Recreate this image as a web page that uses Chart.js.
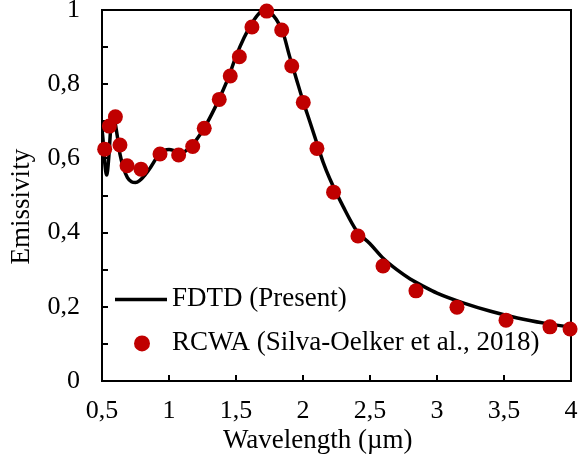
<!DOCTYPE html>
<html>
<head>
<meta charset="utf-8">
<script src="https://cdn.jsdelivr.net/npm/chart.js@4.4.1/dist/chart.umd.min.js"></script>
<style>
  html, body { margin: 0; padding: 0; background: #fff; }
  #emisChart { display: block; }
</style>
</head>
<body>
<canvas id="emisChart" width="578" height="463"></canvas>
<script>
// FDTD (Present) - solid curve
const fdtdWavelength = [0.50, 0.51, 0.52, 0.535, 0.55, 0.565, 0.58, 0.595, 0.61, 0.635, 0.66, 0.69, 0.72, 0.75, 0.78, 0.82, 0.87, 0.93, 1.00, 1.05, 1.10, 1.15, 1.20, 1.26, 1.32, 1.38, 1.44, 1.50, 1.56, 1.62, 1.67, 1.71, 1.75, 1.80, 1.85, 1.90, 1.95, 2.00, 2.05, 2.10, 2.15, 2.20, 2.30, 2.40, 2.50, 2.60, 2.70, 2.80, 2.90, 3.00, 3.20, 3.40, 3.60, 3.80, 4.00]
const fdtdEmissivity = [0.68, 0.64, 0.59, 0.555, 0.60, 0.68, 0.71, 0.70, 0.67, 0.61, 0.575, 0.548, 0.537, 0.535, 0.54, 0.555, 0.58, 0.613, 0.624, 0.62, 0.616, 0.628, 0.648, 0.68, 0.72, 0.765, 0.815, 0.875, 0.925, 0.965, 0.99, 1.0, 0.995, 0.975, 0.94, 0.875, 0.815, 0.755, 0.70, 0.645, 0.59, 0.545, 0.47, 0.405, 0.37, 0.33, 0.30, 0.275, 0.255, 0.237, 0.21, 0.188, 0.17, 0.156, 0.145]

// RCWA (Silva-Oelker et al., 2018) - red dots
const rcwaWavelength = [0.52, 0.555, 0.60, 0.634, 0.687, 0.791, 0.933, 1.072, 1.177, 1.263, 1.375, 1.457, 1.525, 1.619, 1.729, 1.841, 1.916, 2.002, 2.104, 2.228, 2.41, 2.597, 2.843, 3.149, 3.515, 3.843, 3.993]
const rcwaEmissivity = [0.625, 0.687, 0.712, 0.636, 0.580, 0.571, 0.612, 0.609, 0.632, 0.681, 0.759, 0.822, 0.874, 0.954, 0.997, 0.946, 0.849, 0.751, 0.627, 0.509, 0.391, 0.31, 0.243, 0.199, 0.164, 0.146, 0.140]

const xTicks = [0.5, 1, 1.5, 2, 2.5, 3, 3.5, 4]
const yTicks = [0, 0.2, 0.4, 0.6, 0.8, 1]

const seriesNames = ["FDTD (Present)", "RCWA (Silva-Oelker et al., 2018)"]
const xTitle = "Wavelength (µm)"
const yTitle = "Emissivity"

const serif = "'Liberation Serif', 'Times New Roman', serif"
const red = "#C00000"

function toPoints(xs, ys) {
    return xs.map(function(x, i) { return { x: x, y: ys[i] } })
}

function commaLabel(v) {
    return String(Math.round(v * 10) / 10).replace(".", ",")
}

// keep the plot box where the reference has it
function noScalePadding(scale) {
    scale.paddingTop = 0
    scale.paddingBottom = 0
    scale.paddingLeft = 0
    scale.paddingRight = 0
}

// frame and inner tick marks go under the data, titles and legend on top
const framePlugin = {
    id: "frame",
    beforeDatasetsDraw(chart) {
        const ctx = chart.ctx
        const area = chart.chartArea
        const xs = chart.scales.x
        const ys = chart.scales.y
        ctx.save()
        ctx.strokeStyle = "#000"
        ctx.lineWidth = 2
        ctx.strokeRect(area.left, area.top, area.right - area.left, area.bottom - area.top)

        ctx.beginPath()
        xs.ticks.forEach(function(t) {
            const px = Math.round(xs.getPixelForValue(t.value))
            ctx.moveTo(px, area.bottom)
            ctx.lineTo(px, area.bottom - 6)
        })
        ys.ticks.forEach(function(t) {
            const py = Math.round(ys.getPixelForValue(t.value))
            ctx.moveTo(area.left, py)
            ctx.lineTo(area.left + 6, py)
        })
        ctx.stroke()
        ctx.restore()
    },
    afterDraw(chart) {
        const ctx = chart.ctx
        const area = chart.chartArea
        const ys = chart.scales.y
        ctx.save()

        // axis titles
        ctx.fillStyle = "#000"
        ctx.font = "27px " + serif
        ctx.textAlign = "center"
        ctx.textBaseline = "middle"
        ctx.fillText(xTitle, area.left + (area.right - area.left) * 0.46, area.bottom + 60)
        ctx.save()
        ctx.translate(22, area.top + (area.bottom - area.top) * 0.53)
        ctx.rotate(-Math.PI / 2)
        ctx.fillText(yTitle, 0, 0)
        ctx.restore()

        // legend inside the plot
        ctx.textAlign = "left"
        const lx = area.left + 13
        const ly = ys.getPixelForValue(0.22)
        ctx.lineWidth = 3.5
        ctx.beginPath()
        ctx.moveTo(lx, ly)
        ctx.lineTo(lx + 52, ly)
        ctx.stroke()
        ctx.fillText(seriesNames[0], lx + 57, ly)

        const ly2 = ly + 44
        ctx.fillStyle = red
        ctx.beginPath()
        ctx.arc(lx + 27, ly2, 8, 0, Math.PI * 2)
        ctx.fill()
        ctx.fillStyle = "#000"
        ctx.fillText(seriesNames[1], lx + 57, ly2)
        ctx.restore()
    }
}

const data = {
    datasets: [
        {
            type: "line",
            label: seriesNames[0],
            data: toPoints(fdtdWavelength, fdtdEmissivity),
            borderColor: "#000",
            borderWidth: 3.5,
            pointRadius: 0,
            cubicInterpolationMode: "monotone",
            fill: false,
            order: 2
        },
        {
            type: "scatter",
            label: seriesNames[1],
            data: toPoints(rcwaWavelength, rcwaEmissivity),
            backgroundColor: red,
            borderWidth: 0,
            pointRadius: 7.5,
            clip: 10,
            order: 1
        }
    ]
}

const config = {
    type: "scatter",
    data,
    options: {
        responsive: false,
        animation: false,
        devicePixelRatio: 1,
        layout: {
            autoPadding: false,
            padding: { left: 0, right: 7, top: 10, bottom: 0 }
        },
        plugins: {
            legend: { display: false },
            tooltip: { enabled: false }
        },
        scales: {
            x: {
                type: "linear",
                min: 0.5,
                max: 4,
                afterFit: function(scale) {
                    scale.height = 82
                    noScalePadding(scale)
                },
                afterBuildTicks: function(scale) {
                    scale.ticks = xTicks.map(function(v) { return { value: v } })
                },
                grid: { display: false, drawTicks: false },
                border: { display: false },
                ticks: {
                    color: "#000",
                    font: { family: serif, size: 26 },
                    padding: 15,
                    maxRotation: 0,
                    callback: commaLabel
                }
            },
            y: {
                min: 0,
                max: 1,
                afterFit: function(scale) {
                    scale.width = 102
                    noScalePadding(scale)
                },
                afterBuildTicks: function(scale) {
                    const t = []
                    for (let i = 0; i <= 10; i++) t.push({ value: i / 10 })
                    scale.ticks = t
                },
                grid: { display: false, drawTicks: false },
                border: { display: false },
                ticks: {
                    color: "#000",
                    font: { family: serif, size: 26 },
                    padding: 22,
                    callback: function(v) {
                        const hit = yTicks.some(function(t) { return Math.abs(t - v) < 1e-6 })
                        return hit ? commaLabel(v) : ""
                    }
                }
            }
        }
    },
    plugins: [framePlugin]
}

const myChart = new Chart(document.getElementById("emisChart"), config)
</script>
</body>
</html>
